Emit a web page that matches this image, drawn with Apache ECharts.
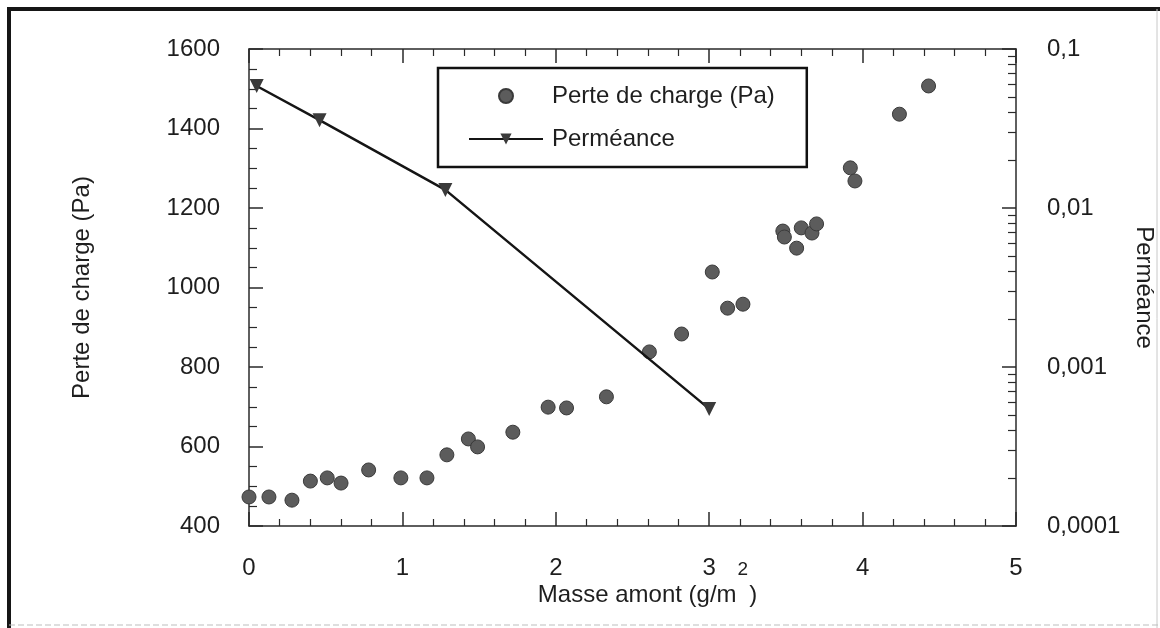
<!DOCTYPE html>
<html>
<head>
<meta charset="utf-8">
<script src="https://cdn.jsdelivr.net/npm/echarts@6/dist/echarts.min.js"></script>
<style>html,body{margin:0;padding:0;background:#fff}#c{width:1160px;height:628px}</style>
</head>
<body>
<div id="c"></div>
<script>
// Perte de charge (Pa) vs Masse amont (g/m2)
const masse = [0.0,0.13,0.28,0.40,0.51,0.60,0.78,0.99,1.16,1.29,1.43,1.49,1.72,1.95,2.07,2.33,2.61,2.82,3.02,3.12,3.22,3.48,3.49,3.57,3.60,3.67,3.70,3.92,3.95,4.24,4.43];
const perte = [473,473,465,513,521,508,541,521,521,579,619,599,636,699,697,725,838,883,1039,948,958,1142,1127,1099,1150,1137,1160,1301,1268,1436,1507];
// Perméance (log scale)
const permMasse = [0.05,0.46,1.28,3.0];
const permVal = [0.0585,0.0357,0.0130,0.000545];
// Right axis ticks
const rightTicks = [0.0001,0.001,0.01,0.1];
const rightTickLabels = ['0,0001','0,001','0,01','0,1'];

const minorLog = [];
for (let d = 0; d < 3; d++) {
  const base = rightTicks[d];
  for (let k = 2; k <= 9; k++) minorLog.push(+(base * k).toPrecision(3));
}

const FONT = "'Liberation Sans', Arial, Helvetica, sans-serif";
const TXT = '#1e1e1e';
const AX = '#2a2a2a';
const FS = 24;

const tickAxisX = (pos) => ({
  type: 'value', min: 0, max: 5, interval: 1, position: pos,
  axisLine: {show: pos === 'top', onZero: false, lineStyle: {color: AX, width: 1.5}},
  axisTick: {show: true, inside: true, length: 14, lineStyle: {color: AX, width: 1.5}},
  minorTick: {show: true, splitNumber: 5, length: 7, lineStyle: {color: AX, width: 1.2}},
  axisLabel: {show: false}, splitLine: {show: false}, minorSplitLine: {show: false}
});

const chart = echarts.init(document.getElementById('c'), null, {renderer: 'canvas'});
chart.setOption({
  backgroundColor: '#fff',
  animation: false,
  textStyle: {fontFamily: FONT},
  grid: {left: 249, right: 144, top: 49, bottom: 102, containLabel: false, outerBoundsMode: 'none'},
  legend: {
    left: 438, top: 68, orient: 'vertical',
    padding: [16, 32, 16, 30],
    itemGap: 19, itemWidth: 74, itemHeight: 14,
    borderColor: '#111', borderWidth: 2.5,
    textStyle: {fontSize: FS, color: TXT, fontFamily: FONT, padding: [0,0,0,4]},
    data: ['Perte de charge (Pa)', 'Perméance']
  },
  xAxis: [{
    type: 'value', min: 0, max: 5, interval: 1, position: 'bottom',
    name: '{m|Masse amont (g/m}{sup|2}{m|)}', nameLocation: 'middle', nameGap: 34, nameMoveOverlap: false,
    nameTextStyle: {color: TXT, fontFamily: FONT, padding: [0,0,0,30],
      rich: {
        m: {fontSize: FS, color: TXT, fontFamily: FONT, lineHeight: 70},
        sup: {fontSize: 19, color: TXT, fontFamily: FONT, lineHeight: 18, verticalAlign: 'top', padding: [0,1,0,1]}
      }},
    axisLine: {show: true, onZero: false, lineStyle: {color: AX, width: 1.5}},
    axisTick: {show: false},
    axisLabel: {fontSize: FS, color: TXT, margin: 30, fontFamily: FONT},
    splitLine: {show: false}
  }, tickAxisX('top'), tickAxisX('bottom')],
  yAxis: [{
    type: 'value', min: 400, max: 1600, interval: 200, position: 'left',
    name: 'Perte de charge (Pa)', nameLocation: 'middle', nameGap: 155,
    nameTextStyle: {fontSize: FS, color: TXT, fontFamily: FONT},
    axisLine: {show: true, onZero: false, lineStyle: {color: AX, width: 1.5}},
    axisTick: {show: false},
    axisLabel: {fontSize: FS, color: TXT, margin: 29, fontFamily: FONT, formatter: (v) => String(v)},
    splitLine: {show: false}
  }, {
    type: 'log', logBase: 10, min: 0.0001, max: 0.1, position: 'right',
    name: 'Perméance', nameLocation: 'middle', nameGap: 110, nameRotate: -90,
    nameTextStyle: {fontSize: FS, color: TXT, fontFamily: FONT},
    axisLine: {show: true, onZero: false, lineStyle: {color: AX, width: 1.5}},
    axisTick: {show: false},
    axisLabel: {fontSize: FS, color: TXT, margin: 31, fontFamily: FONT, customValues: rightTicks,
      formatter: function (v) {
        for (let i = 0; i < rightTicks.length; i++) if (Math.abs(Math.log10(v) - Math.log10(rightTicks[i])) < 1e-6) return rightTickLabels[i];
        return '';
      }},
    splitLine: {show: false}
  }, {
    type: 'log', logBase: 10, min: 0.0001, max: 0.1, position: 'right',
    axisLine: {show: false, onZero: false},
    axisTick: {show: true, inside: true, length: 14, customValues: rightTicks, lineStyle: {color: AX, width: 1.5}},
    axisLabel: {show: false}, splitLine: {show: false}
  }, {
    type: 'log', logBase: 10, min: 0.0001, max: 0.1, position: 'right',
    axisLine: {show: false, onZero: false},
    axisTick: {show: true, inside: true, length: 8, customValues: minorLog, lineStyle: {color: AX, width: 1.2}},
    axisLabel: {show: false}, splitLine: {show: false}
  }, {
    type: 'value', min: 400, max: 1600, interval: 200, position: 'left',
    axisLine: {show: false, onZero: false},
    axisTick: {show: true, inside: true, length: 14, lineStyle: {color: AX, width: 1.5}},
    minorTick: {show: true, splitNumber: 4, length: 8, lineStyle: {color: AX, width: 1.2}},
    axisLabel: {show: false}, splitLine: {show: false}, minorSplitLine: {show: false}
  }],
  series: [{
    name: 'Perte de charge (Pa)', type: 'scatter', xAxisIndex: 0, yAxisIndex: 0,
    symbol: 'circle', symbolSize: 14,
    itemStyle: {color: '#5c5c5c', borderColor: '#3a3a3a', borderWidth: 1, opacity: 1},
    data: masse.map((m, i) => [m, perte[i]]),
    z: 3
  }, {
    name: 'Perméance', type: 'line', xAxisIndex: 0, yAxisIndex: 1,
    symbol: 'triangle', symbolRotate: 180, symbolSize: 14, showSymbol: true,
    lineStyle: {color: '#151515', width: 2.5},
    itemStyle: {color: '#3a3a3a', borderColor: '#3a3a3a', borderWidth: 0},
    data: permMasse.map((m, i) => [m, permVal[i]]),
    z: 4
  }],
  graphic: [
    {type: 'line', shape: {x1: 9, y1: 9, x2: 1160, y2: 9}, style: {stroke: '#161616', lineWidth: 4}},
    {type: 'line', shape: {x1: 9, y1: 7, x2: 9, y2: 628}, style: {stroke: '#161616', lineWidth: 4}},
    {type: 'line', shape: {x1: 1157, y1: 9, x2: 1157, y2: 628}, style: {stroke: '#c8c8c8', lineWidth: 1}},
    {type: 'line', shape: {x1: 9, y1: 625, x2: 1160, y2: 625}, style: {stroke: '#bdbdbd', lineWidth: 1, lineDash: [6, 3]}}
  ]
});
</script>
</body>
</html>
